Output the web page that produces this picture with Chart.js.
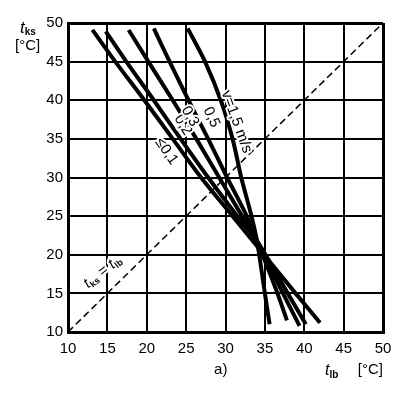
<!DOCTYPE html>
<html>
<head>
<meta charset="utf-8">
<script src="https://cdn.jsdelivr.net/npm/chart.js@4/dist/chart.umd.min.js"></script>
<style>
  html, body { margin: 0; padding: 0; background: #fff; }
  #wrap { width: 406px; height: 396px; position: relative; }
</style>
</head>
<body>
<div id="wrap"><canvas id="chart"></canvas></div>
<script>
const axisTicks = [10, 15, 20, 25, 30, 35, 40, 45, 50];
const velocityLabels = ["≤0,1", "0,2", "0,3", "0,5", "v=1,5 m/s"];

// t_lb (x) and t_ks (y), top to bottom
const tlb01 = [13.1, 16.0, 19.7, 23.3, 26.9, 30.9, 34.9, 38.9, 42.0];
const tks01 = [49.1, 45, 40, 35, 30, 25, 20, 15, 11.2];
const tlb02 = [14.8, 17.4, 20.9, 24.3, 27.8, 31.5, 34.0, 37.9, 40.2];
const tks02 = [48.9, 45, 40, 35, 30, 25, 21.8, 15, 11.0];
const tlb03 = [17.7, 20.2, 23.3, 26.3, 29.2, 32.1, 34.0, 37.3, 39.4];
const tks03 = [49.1, 45, 40, 35, 30, 25, 21.8, 15, 10.8];
const tlb05 = [20.9, 22.9, 25.3, 27.8, 30.2, 32.7, 34.0, 36.6, 37.8];
const tks05 = [49.3, 45, 40, 35, 30, 25, 21.8, 15, 11.5];
const tlb15 = [25.2, 27.4, 29.4, 30.9, 32.0, 33.3, 34.0, 35.0, 35.6];
const tks15 = [49.3, 45, 40, 35, 30, 25, 21.8, 15, 11.0];
const diagonal = [10, 50];

const FONT = "'Liberation Sans', Arial, sans-serif";

function points(xs, ys) {
  return xs.map((x, i) => ({ x, y: ys[i] }));
}

function curve(xs, ys) {
  return {
    data: points(xs, ys),
    showLine: true,
    borderColor: "#000",
    borderWidth: 4,
    pointRadius: 0,
    tension: 0.3,
  };
}

// draw a run of text pieces (for subscripts), with white halo
function drawRuns(ctx, x, y, angle, parts, align = "center", halo = true) {
  ctx.save();
  ctx.translate(x, y);
  ctx.rotate((angle * Math.PI) / 180);
  ctx.textBaseline = "middle";
  ctx.textAlign = "left";
  let width = 0;
  parts.forEach((p) => {
    ctx.font = p.font;
    width += ctx.measureText(p.text).width;
  });
  let start = 0;
  if (align === "center") start = -width / 2;
  if (align === "right") start = -width;
  const passes = halo ? ["stroke", "fill"] : ["fill"];
  passes.forEach((pass) => {
    let cx = start;
    parts.forEach((p) => {
      ctx.font = p.font;
      if (pass === "stroke") {
        ctx.lineWidth = 4;
        ctx.lineJoin = "round";
        ctx.strokeStyle = "#fff";
        ctx.strokeText(p.text, cx, p.dy || 0);
      } else {
        ctx.fillStyle = "#000";
        ctx.fillText(p.text, cx, p.dy || 0);
      }
      cx += ctx.measureText(p.text).width;
    });
  });
  ctx.restore();
}

const labelsPlugin = {
  id: "labels",
  afterDatasetsDraw(chart) {
    const { ctx, chartArea, scales } = chart;
    const px = (v) => scales.x.getPixelForValue(v);
    const py = (v) => scales.y.getPixelForValue(v);
    const f = `15px ${FONT}`;
    const anchors = [
      [22.5, 33.4, 55],
      [24.6, 36.8, 58],
      [25.5, 37.9, 60],
      [28.2, 37.8, 66],
      [31.4, 37.2, 70],
    ];
    anchors.forEach(([x, y, a], i) => {
      drawRuns(ctx, px(x), py(y), a, [{ text: velocityLabels[i], font: f }]);
    });

    // t_ks = t_lb along the dashed diagonal
    drawRuns(ctx, px(14.4), py(17.8), -38, [
      { text: "t", font: `italic 15px ${FONT}` },
      { text: "ks", font: `bold 9px ${FONT}`, dy: 4 },
      { text: " = ", font: f },
      { text: "t", font: `italic 15px ${FONT}` },
      { text: "lb", font: `bold 9px ${FONT}`, dy: 4 },
    ]);

    // axis titles
    drawRuns(ctx, chartArea.left - 48, chartArea.top + 5, 0, [
      { text: "t", font: `italic 17px ${FONT}` },
      { text: "ks", font: `bold 10px ${FONT}`, dy: 4 },
    ], "left", false);
    drawRuns(ctx, chartArea.left - 53, chartArea.top + 23, 0, [
      { text: "[°C]", font: f },
    ], "left", false);
    drawRuns(ctx, chartArea.right - 58, chartArea.bottom + 39, 0, [
      { text: "t", font: `italic 16px ${FONT}` },
      { text: "lb", font: `bold 10px ${FONT}`, dy: 4 },
    ], "left", false);
    drawRuns(ctx, chartArea.right, chartArea.bottom + 38, 0, [
      { text: "[°C]", font: f },
    ], "right", false);
    drawRuns(ctx, px(29.4), chartArea.bottom + 38, 0, [
      { text: "a)", font: f },
    ], "center", false);
  },
};

new Chart(document.getElementById("chart"), {
  type: "scatter",
  data: {
    datasets: [
      {
        data: points(diagonal, diagonal),
        showLine: true,
        borderColor: "#000",
        borderWidth: 1.5,
        borderDash: [7, 4],
        pointRadius: 0,
      },
      curve(tlb01, tks01),
      curve(tlb02, tks02),
      curve(tlb03, tks03),
      curve(tlb05, tks05),
      curve(tlb15, tks15),
    ],
  },
  options: {
    responsive: true,
    maintainAspectRatio: false,
    animation: false,
    layout: { padding: { top: 23, right: 23, left: 0, bottom: 0 } },
    plugins: { legend: { display: false }, tooltip: { enabled: false } },
    scales: {
      x: {
        type: "linear",
        min: 10,
        max: 50,
        afterBuildTicks: (scale) => { scale.ticks = axisTicks.map((value) => ({ value })); },
        afterFit: (scale) => { scale.height = 64; },
        grid: {
          color: "#000",
          lineWidth: (c) => (c.tick && (c.tick.value === 50 || c.tick.value === 10) ? 3 : 2),
          drawTicks: false,
        },
        border: { color: "#000", width: 3 },
        ticks: { color: "#000", padding: 8, font: { family: FONT, size: 15 } },
      },
      y: {
        type: "linear",
        min: 10,
        max: 50,
        afterBuildTicks: (scale) => { scale.ticks = axisTicks.map((value) => ({ value })); },
        afterFit: (scale) => { scale.width = 68; },
        grid: {
          color: "#000",
          lineWidth: (c) => (c.tick && (c.tick.value === 50 || c.tick.value === 10) ? 3 : 2),
          drawTicks: false,
        },
        border: { color: "#000", width: 3 },
        ticks: { color: "#000", padding: 5, font: { family: FONT, size: 15 } },
      },
    },
  },
  plugins: [labelsPlugin],
});
</script>
</body>
</html>
